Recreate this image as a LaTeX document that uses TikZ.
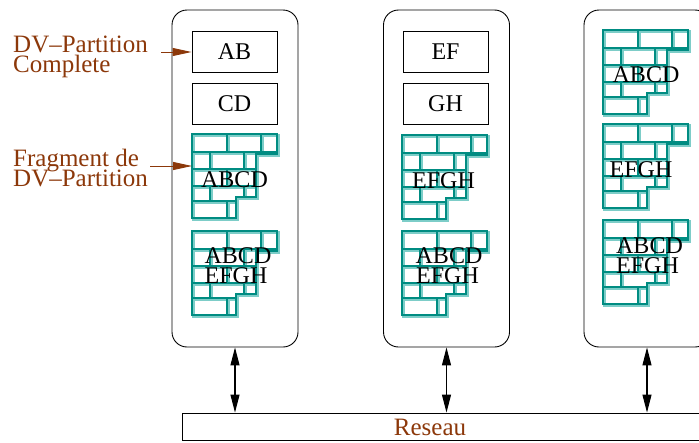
\documentclass[tikz,border=0pt]{standalone}
\usepackage{fontspec}
\setmainfont{Liberation Serif}
\usetikzlibrary{arrows.meta}
\definecolor{lbrown}{RGB}{140,56,10}
\definecolor{tealD}{RGB}{0,140,130}
\definecolor{tealL}{RGB}{125,205,200}
\newcommand\brickpath{(0,0) -- (85,0) -- (85,20) -- (64,20) -- (64,63) -- (44,63) -- (44,84) -- (0,84) -- cycle
 (0,18) -- (85,18) (0,35) -- (64,35) (0,52) -- (64,52) (0,67) -- (44,67)
 (35,0) -- (35,18) (69,0) -- (69,18) (18,18) -- (18,35) (52,18) -- (52,35)
 (35,35) -- (35,52) (18,52) -- (18,67) (52,52) -- (52,63) (35,67) -- (35,84)}
\tikzset{
  pics/bricks/.style={code={
    \draw[tealL, line width=3pt] \brickpath;
    \draw[tealD, line width=1.3pt, shift={(-0.9,-0.9)}] \brickpath;
  }},
  server/.style={draw, line width=0.9pt, rounded corners=15pt, minimum width=126pt, minimum height=337pt, inner sep=0pt},
  dvbox/.style={draw, line width=0.9pt, minimum width=85pt, minimum height=41pt, inner sep=0pt, font=\fontsize{24}{24}\selectfont},
  frag/.style={inner sep=0pt, anchor=base, font=\fontsize{24}{24}\selectfont},
  blbl/.style={inner sep=0pt, anchor=base west, text=lbrown, font=\fontsize{25}{25}\selectfont},
  brarrow/.style={draw=lbrown, line width=0.9pt, -{Triangle[length=19pt,width=8pt]}, lbrown},
  biarrow/.style={draw, line width=1.1pt, {Triangle[length=18pt,width=9pt]}-{Triangle[length=18pt,width=9pt]}}
}
\begin{document}
\begin{tikzpicture}[x=1pt,y=-1pt]
\useasboundingbox (0,0) rectangle (699,442);
\clip (0,0) rectangle (699,442);
% servers
\node[server] (s1) at (235,178.5) {};
\node[server] (s2) at (446.5,178.5) {};
\node[server] (s3) at (647,178.5) {};
% complete partitions
\node[dvbox] (ab) at (234.5,51.5) {AB};
\node[dvbox] (cd) at (234.5,104) {CD};
\node[dvbox] (ef) at (445.5,51.5) {EF};
\node[dvbox] (gh) at (445.5,104) {GH};
% fragments
\pic at (193,135) {bricks};
\pic at (193,232) {bricks};
\pic at (403,136) {bricks};
\pic at (403,232) {bricks};
\pic at (604,31) {bricks};
\pic at (604,125) {bricks};
\pic at (604,221) {bricks};
\node[frag] (f1) at (234.5,187) {ABCD};
\node[frag] (f2a) at (238,263) {ABCD};
\node[frag] (f2b) at (236,283) {EFGH};
\node[frag] (f3) at (443.5,188) {EFGH};
\node[frag] (f4a) at (449,263) {ABCD};
\node[frag] (f4b) at (447.5,283) {EFGH};
\node[frag] (f5) at (646,82) {ABCD};
\node[frag] (f6) at (641,177) {EFGH};
\node[frag] (f7a) at (649.5,253) {ABCD};
\node[frag] (f7b) at (647.5,273) {EFGH};
% network
\node[draw, line width=0.9pt, minimum width=540pt, minimum height=27pt, inner sep=0pt] (net) at (452,426.5) {};
\node[inner sep=0pt, anchor=base, text=lbrown, font=\fontsize{25}{25}\selectfont] (rl) at (430,435) {Reseau};
\draw[biarrow] (s1.south) -- (s1.south |- net.north);
\draw[biarrow] (s2.south) -- (s2.south |- net.north);
\draw[biarrow] (s3.south) -- (s3.south |- net.north);
% left labels
\node[blbl] (l1) at (13,52) {DV–Partition};
\node[blbl] (l2) at (13,72) {Complete};
\node[blbl] (l3) at (13,166) {Fragment de};
\node[blbl] (l4) at (13,186) {DV–Partition};
\coordinate (a1) at (161,52);
\coordinate (a2) at (150,166);
\coordinate (t2) at (192,166);
\draw[brarrow] (a1) -- (ab.west |- a1);
\draw[brarrow] (a2) -- (t2);
\end{tikzpicture}
\end{document}
